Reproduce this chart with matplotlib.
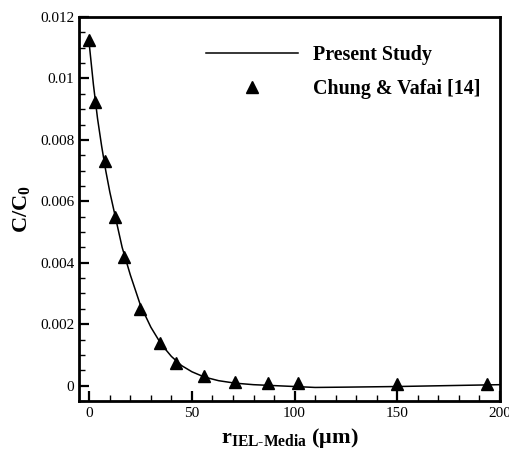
import numpy as np
import matplotlib
matplotlib.use("Agg")
import matplotlib.pyplot as plt
from matplotlib.ticker import MultipleLocator

plt.rcParams['font.family'] = ['Liberation Serif', 'DejaVu Serif']
plt.rcParams['mathtext.fontset'] = 'custom'
plt.rcParams['mathtext.rm'] = 'Liberation Serif'
plt.rcParams['mathtext.bf'] = 'Liberation Serif:bold'
plt.rcParams['mathtext.it'] = 'Liberation Serif:italic'

# Present study (solid curve)
study_r = [0, 2, 4, 6, 8, 10, 13, 16, 20, 25, 30, 35, 40, 45, 50, 56, 63, 71, 80, 90, 100, 110, 125, 150, 175, 200]
study_c = [0.0111, 0.0098, 0.0087, 0.0078, 0.0070, 0.0063, 0.0054, 0.0045, 0.0036, 0.0026, 0.0019, 0.00135, 0.00095,
           0.00065, 0.00045, 0.00028, 0.00016, 0.00008, 0.00003, 0.0, -0.00003, -0.00006, -0.00005, -0.00003, 0.0, 0.00003]

# Chung & Vafai [14] (triangles)
ref_r = [0, 3, 7.6, 12.3, 16.8, 24.5, 34.2, 42.4, 55.7, 70.9, 86.9, 101.8, 150, 194]
ref_c = [0.01124, 0.00924, 0.0073, 0.0055, 0.0042, 0.0025, 0.0014, 0.00073, 0.00032, 0.00011, 0.00008, 0.00008, 0.00006, 0.00006]

fig = plt.figure(figsize=(5.1, 4.49), dpi=100)
ax = fig.add_axes([0.155, 0.107, 0.825, 0.855])

ax.plot(study_r, study_c, color='black', linewidth=1.1, label='Present Study')
ax.plot(ref_r, ref_c, linestyle='none', marker='^', markersize=8, color='black',
        label='Chung & Vafai [14]')

ax.set_xlim(-5, 200)
ax.set_ylim(-0.0005, 0.012)
ax.xaxis.set_minor_locator(MultipleLocator(10))
ax.yaxis.set_minor_locator(MultipleLocator(0.0005))
ax.set_yticks([0, 0.002, 0.004, 0.006, 0.008, 0.01, 0.012])
ax.set_yticklabels(['0', '0.002', '0.004', '0.006', '0.008', '0.01', '0.012'])
ax.set_xticks([0, 50, 100, 150, 200])
ax.set_xticklabels(['0', '50', '100', '150', '200'])

ax.tick_params(which='both', direction='in', top=False, right=False, labelsize=11)
ax.tick_params(which='major', length=7, width=1.6)
ax.tick_params(which='minor', length=4.3, width=1)
ax.tick_params(axis='x', pad=4)
for s in ax.spines.values():
    s.set_linewidth(2)

ax.set_ylabel(r'C/C$_\mathbf{0}$', fontsize=16, fontweight='bold', labelpad=6)
ax.set_xlabel(r'r$_\mathbf{IEL\text{-}Media}$ (μm)', fontsize=16, fontweight='bold', labelpad=5)

ax.legend(loc='upper right', bbox_to_anchor=(0.997, 0.975), frameon=False, handlelength=4.6,
          handletextpad=0.75, labelspacing=0.72, prop={'weight': 'bold', 'size': 14.4})

fig.savefig('out.png', dpi=100)
